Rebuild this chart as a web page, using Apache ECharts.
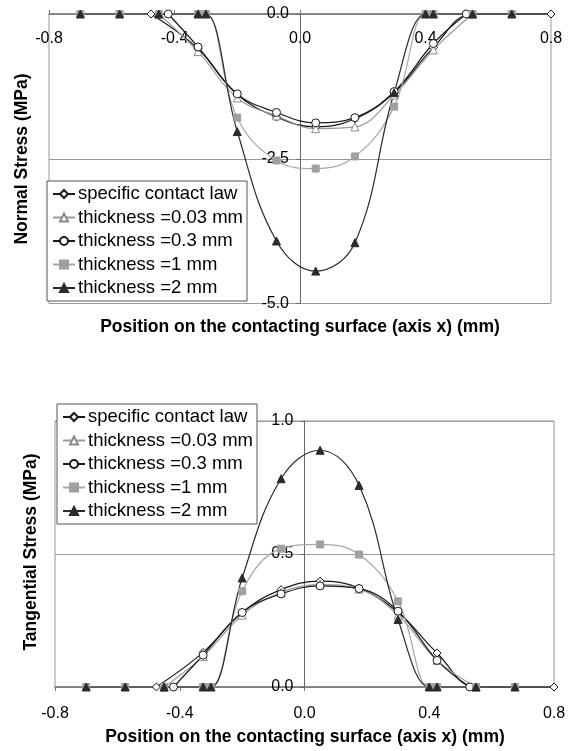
<!DOCTYPE html>
<html>
<head>
<meta charset="utf-8">
<script src="https://cdn.jsdelivr.net/npm/echarts@6/dist/echarts.min.js"></script>
<style>
  html, body { margin: 0; padding: 0; background: #fff; }
  #chart { width: 570px; height: 751px; }
</style>
</head>
<body>
<div id="chart"></div>
<script>
// node positions (mm) of each model
var xLaw = [-0.475, -0.325, -0.2, -0.075, 0.05, 0.175, 0.3, 0.425, 0.55, 0.8];
var xThin = [-0.45, -0.325, -0.2, -0.075, 0.05, 0.175, 0.3, 0.425, 0.55];
var xMid = [-0.42, -0.325, -0.2, -0.075, 0.05, 0.175, 0.3, 0.425, 0.53];
var xThick = [-0.7, -0.575, -0.45, -0.325, -0.3, -0.2, -0.075, 0.05, 0.175, 0.3, 0.4, 0.425, 0.55, 0.675];

// normal stress (MPa)
var normalLaw = [0, -0.60, -1.39, -1.78, -1.95, -1.81, -1.36, -0.58, 0, 0];
var normal003 = [0, -0.65, -1.45, -1.76, -1.98, -1.95, -1.40, -0.62, 0];
var normal03 = [0, -0.57, -1.38, -1.70, -1.88, -1.79, -1.34, -0.51, 0];
var normal1 = [0, 0, 0, 0, 0, -1.79, -2.53, -2.67, -2.46, -1.60, 0, 0, 0, 0];
var normal2 = [0, 0, 0, 0, 0, -2.03, -3.92, -4.44, -3.95, -1.36, 0, 0, 0, 0];

// tangential stress (MPa)
var tangLaw = [0, 0.13, 0.28, 0.366, 0.398, 0.372, 0.28, 0.128, 0, 0];
var tang003 = [0, 0.115, 0.27, 0.355, 0.385, 0.368, 0.27, 0.10, 0];
var tang03 = [0, 0.12, 0.28, 0.35, 0.38, 0.37, 0.285, 0.10, 0];
var tang1 = [0, 0, 0, 0, 0, 0.36, 0.52, 0.536, 0.498, 0.322, 0, 0, 0, 0];
var tang2 = [0, 0, 0, 0, 0, 0.41, 0.783, 0.89, 0.758, 0.254, 0, 0, 0, 0];

var names = ['specific contact law', 'thickness =0.03 mm', 'thickness =0.3 mm', 'thickness =1 mm', 'thickness =2 mm'];
var xTitle = 'Position on the contacting surface (axis x) (mm)';

var font = 'Liberation Sans, Arial, sans-serif';

function pairs(xs, ys) {
  var out = [];
  for (var i = 0; i < xs.length; i++) out.push([xs[i], ys[i]]);
  return out;
}
function fmt(v) {
  if (Math.abs(v) < 1e-9) return '0.0';
  return v.toFixed(1);
}

var styles = [
  { symbol: 'diamond', size: 8, line: '#1a1a1a', fill: '#fff', border: '#1a1a1a' },
  { symbol: 'triangle', size: 8, line: '#9a9a9a', fill: '#fff', border: '#8a8a8a' },
  { symbol: 'circle', size: 8, line: '#1a1a1a', fill: '#fff', border: '#1a1a1a' },
  { symbol: 'rect', size: 7, line: '#a8a8a8', fill: '#a0a0a0', border: '#a0a0a0' },
  { symbol: 'triangle', size: 8, line: '#2a2a2a', fill: '#2a2a2a', border: '#2a2a2a' }
];

function makeSeries(idx, data, axisIdx) {
  var s = styles[idx];
  return {
    name: names[idx],
    type: 'line',
    xAxisIndex: axisIdx,
    yAxisIndex: axisIdx,
    data: data,
    smooth: 0.4,
    clip: false,
    symbol: s.symbol,
    symbolSize: s.size,
    showAllSymbol: true,
    lineStyle: { color: s.line, width: 1.2 },
    itemStyle: { color: s.fill, borderColor: s.border, borderWidth: 1 },
    emphasis: { disabled: true }
  };
}

function legendAt(left, top) {
  return {
    orient: 'vertical',
    left: left,
    top: top,
    data: names,
    backgroundColor: '#fff',
    borderColor: '#555',
    borderWidth: 1,
    borderRadius: 0,
    padding: [3, 4, 3, 5],
    itemWidth: 22,
    itemHeight: 10,
    itemGap: 3.5,
    textStyle: { fontFamily: font, fontSize: 18.5, color: '#000', lineHeight: 20, padding: [0, 0, 0, -2] }
  };
}

function title(text, x, y, rot) {
  return {
    type: 'text',
    x: x,
    y: y,
    rotation: rot,
    silent: true,
    style: {
      text: text,
      fill: '#000',
      font: 'bold 17.5px ' + font,
      textAlign: 'center',
      textVerticalAlign: 'middle'
    }
  };
}

var labelStyle = { fontFamily: font, fontSize: 16, color: '#000', formatter: fmt };

var chart = echarts.init(document.getElementById('chart'), null, { renderer: 'canvas' });
var option = {
  backgroundColor: '#fff',
  animation: false,
  grid: [
    { left: 49, top: 14, width: 502, height: 289.5, show: true, borderColor: '#999', borderWidth: 1,
      outerBoundsMode: 'none', containLabel: false },
    { left: 55, top: 421, width: 499, height: 266, show: true, borderColor: '#999', borderWidth: 1,
      outerBoundsMode: 'none', containLabel: false }
  ],
  legend: [legendAt(47, 181), legendAt(57, 404)],
  graphic: [
    title(xTitle, 300, 327, 0),
    title(xTitle, 305, 737, 0),
    title('Normal Stress (MPa)', 22, 159, Math.PI / 2),
    title('Tangential Stress (MPa)', 31, 552, Math.PI / 2)
  ],
  xAxis: [{
    gridIndex: 0,
    type: 'value',
    position: 'top',
    min: -0.8, max: 0.8, interval: 0.4,
    axisLine: { onZero: false, lineStyle: { color: '#777', width: 1.5 } },
    axisTick: { show: true, length: 4, lineStyle: { color: '#777' } },
    axisLabel: Object.assign({ inside: true, margin: 17 }, labelStyle),
    splitLine: { show: false }
  }, {
    gridIndex: 1,
    type: 'value',
    min: -0.8, max: 0.8, interval: 0.4,
    axisLine: { onZero: false, lineStyle: { color: '#777', width: 1.5 } },
    axisTick: { show: true, length: 4, lineStyle: { color: '#777' } },
    axisLabel: Object.assign({ margin: 19 }, labelStyle),
    splitLine: { show: false }
  }],
  // y axes sit on x = 0, moved in from the grid's left edge
  yAxis: [{
    gridIndex: 0,
    type: 'value',
    min: -5, max: 0, interval: 2.5,
    offset: -251,
    axisLine: { show: true, onZero: false, lineStyle: { color: '#666', width: 1 } },
    axisTick: { show: true, length: 4, lineStyle: { color: '#666' } },
    axisLabel: Object.assign({ margin: 11 }, labelStyle),
    splitLine: { show: true, lineStyle: { color: '#999', width: 1 } }
  }, {
    gridIndex: 1,
    type: 'value',
    min: 0, max: 1, interval: 0.5,
    offset: -249.5,
    axisLine: { show: true, onZero: false, lineStyle: { color: '#666', width: 1 } },
    axisTick: { show: true, length: 4, lineStyle: { color: '#666' } },
    axisLabel: Object.assign({ margin: 11 }, labelStyle),
    splitLine: { show: true, lineStyle: { color: '#999', width: 1 } }
  }],
  series: [
    makeSeries(0, pairs(xLaw, normalLaw), 0),
    makeSeries(1, pairs(xThin, normal003), 0),
    makeSeries(2, pairs(xMid, normal03), 0),
    makeSeries(3, pairs(xThick, normal1), 0),
    makeSeries(4, pairs(xThick, normal2), 0),
    makeSeries(0, pairs(xLaw, tangLaw), 1),
    makeSeries(1, pairs(xThin, tang003), 1),
    makeSeries(2, pairs(xMid, tang03), 1),
    makeSeries(3, pairs(xThick, tang1), 1),
    makeSeries(4, pairs(xThick, tang2), 1)
  ]
};
chart.setOption(option);
</script>
</body>
</html>
